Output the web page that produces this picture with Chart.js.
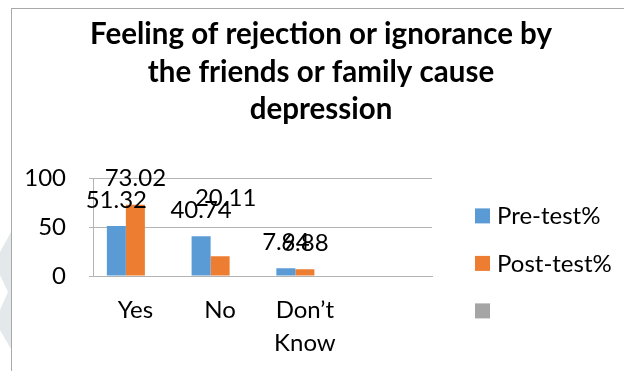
<!DOCTYPE html>
<html>
<head>
<meta charset="utf-8">
<script src="https://cdn.jsdelivr.net/npm/chart.js@4.4.1/dist/chart.umd.min.js"></script>
<style>
  html, body { margin: 0; padding: 0; background: #fff; }
  #wrap { position: relative; width: 624px; height: 371px; overflow: hidden; }
  #mark { position: absolute; left: 0; top: 0; }
  #frame {
    position: absolute; left: 11px; top: 8px; width: 700px; height: 400px;
    border-left: 1px solid #a9a9a9; border-top: 1px solid #a9a9a9;
  }
  #chart { position: absolute; left: 0; top: 0; }
</style>
</head>
<body>
<div id="wrap">
  <svg id="mark" width="12" height="371">
    <path d="M11 232 L0 252 L0 275 L8 292 L0 310 L0 330 L11 349 Z" fill="#e3e8eb"/>
  </svg>
  <div id="frame"></div>
  <canvas id="chart" width="624" height="371"></canvas>
</div>
<script>
// chart data
const titleLines = ["Feeling of rejection or ignorance by", "the friends or family cause", "depression"];
const categories = ["Yes", "No", ["Don’t", "Know"], ""];
const seriesNames = ["Pre-test%", "Post-test%", ""];
const preTest = [51.32, 40.74, 7.94, null];
const postTest = [73.02, 20.11, 6.88, null];
const emptySeries = [null, null, null, null];
const seriesColors = ["#5b9bd5", "#ed7d31", "#a5a5a5"];
const yMin = 0;
const yMax = 100;
const yStep = 50;

const FONT = "Lato";
const TEXT_SIZE = 24;
// label that was dragged off its bar: "dataset-index" -> [dx, dy]
const labelNudge = { "1-1": [5.5, -32] };

// numbers above each bar
const valueLabels = {
  id: "valueLabels",
  afterDatasetsDraw(chart) {
    const ctx = chart.ctx;
    ctx.save();
    ctx.font = `${TEXT_SIZE}px ${FONT}`;
    ctx.fillStyle = "#000";
    ctx.textAlign = "center";
    ctx.textBaseline = "middle";
    chart.data.datasets.forEach((ds, i) => {
      chart.getDatasetMeta(i).data.forEach((bar, j) => {
        const v = ds.data[j];
        if (v == null) return;
        const [dx, dy] = labelNudge[`${i}-${j}`] || [0, 0];
        ctx.fillText(v.toFixed(2), bar.x + dx, bar.y - 26 + dy);
      });
    });
    ctx.restore();
  },
};

// legend on the right, one row per series
const sideLegend = {
  id: "sideLegend",
  afterDraw(chart) {
    const ctx = chart.ctx;
    const area = chart.chartArea;
    const x = area.right + 43;
    let y = area.top + 37;
    ctx.save();
    ctx.font = `${TEXT_SIZE}px ${FONT}`;
    ctx.textBaseline = "middle";
    ctx.textAlign = "left";
    chart.data.datasets.forEach((ds) => {
      ctx.fillStyle = ds.backgroundColor;
      ctx.fillRect(x, y - 7, 15, 15);
      ctx.fillStyle = "#000";
      ctx.fillText(ds.label, x + 22, y + 1);
      y += 47.5;
    });
    ctx.restore();
  },
};

const gridColor = "#b4b4b4";

new Chart(document.getElementById("chart"), {
  type: "bar",
  data: {
    labels: categories,
    datasets: [
      { label: seriesNames[0], data: preTest, backgroundColor: seriesColors[0] },
      { label: seriesNames[1], data: postTest, backgroundColor: seriesColors[1] },
      { label: seriesNames[2], data: emptySeries, backgroundColor: seriesColors[2] },
    ],
  },
  options: {
    responsive: false,
    animation: false,
    categoryPercentage: 0.673,
    barPercentage: 1,
    layout: { padding: { left: 18, right: 0, top: 0, bottom: 10 } },
    plugins: {
      legend: { display: false },
      tooltip: { enabled: false },
      title: {
        display: true,
        text: titleLines,
        color: "#000",
        font: { family: FONT, size: 29.5, weight: "bold", lineHeight: 1.27 },
        padding: { top: 16, bottom: 50 },
      },
    },
    scales: {
      x: {
        grid: { display: false },
        border: { display: true, color: gridColor },
        ticks: {
          color: "#000",
          font: { family: FONT, size: TEXT_SIZE, lineHeight: 1.375 },
          padding: 10,
          autoSkip: false,
          maxRotation: 0,
        },
        afterFit(scale) {
          scale.height = 85;
        },
      },
      y: {
        min: yMin,
        max: yMax,
        grid: { color: gridColor, tickLength: 4, drawTicks: true },
        border: { display: true, color: gridColor },
        ticks: {
          stepSize: yStep,
          color: "#000",
          font: { family: FONT, size: TEXT_SIZE },
          padding: 23,
        },
        afterFit(scale) {
          scale.width = 75;
        },
      },
      // keeps room on the right for the legend
      legendSpace: {
        type: "linear",
        position: "right",
        display: true,
        grid: { display: false },
        border: { display: false },
        ticks: { display: false },
        afterFit(scale) {
          scale.width = 192;
        },
      },
    },
  },
  plugins: [valueLabels, sideLegend],
});
</script>
</body>
</html>
